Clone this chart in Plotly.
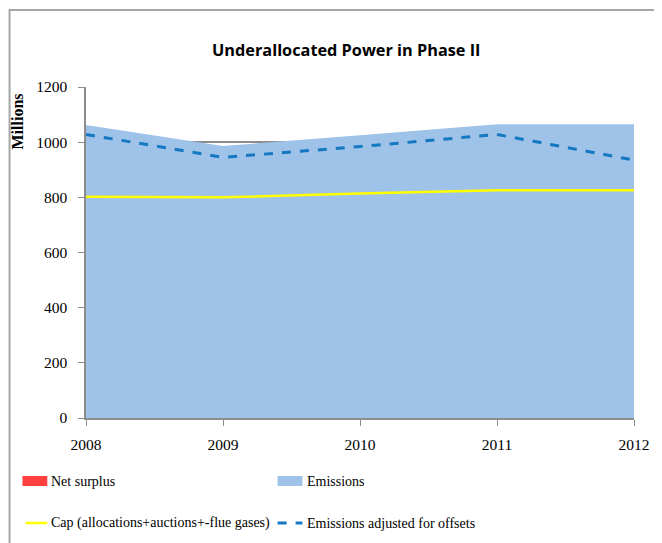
import plotly.graph_objects as go

years = [2008, 2009, 2010, 2011, 2012]
emissions = [1062, 986, 1025, 1065, 1065]
emissions_adj = [1028, 945, 984, 1028, 935]
cap = [802, 800, 814, 826, 826]
net_surplus = [0, 0, 0, 0, 0]
y_ticks = [0, 200, 400, 600, 800, 1000, 1200]

# page has an 8px body margin; work in page pixels and convert
OFF = 8
W, H = 662 - OFF, 543 - OFF
L, R, T, B = 86 - OFF, 24, 87 - OFF, 125
pw, ph = W - L - R, H - T - B

def px(x):
    return (x - OFF - L) / pw

def py(y):
    return (H - B - (y - OFF)) / ph

serif = "Liberation Serif"
fig = go.Figure()
fig.add_trace(go.Scatter(x=years, y=emissions, mode="lines", fill="tozeroy",
                         line=dict(width=0, color="#9FC2E8"), fillcolor="#9FC2E8",
                         name="Emissions", showlegend=False))
fig.add_trace(go.Scatter(x=years, y=net_surplus, mode="lines", fill="tozeroy",
                         line=dict(width=0, color="#FF4040"), fillcolor="#FF4040",
                         name="Net surplus", showlegend=False))
fig.add_trace(go.Scatter(x=years, y=cap, mode="lines",
                         line=dict(width=2.5, color="#FFFF00"),
                         name="Cap (allocations+auctions+-flue gases)", showlegend=False))
fig.add_trace(go.Scatter(x=years, y=emissions_adj, mode="lines",
                         line=dict(width=3, color="#1478C2", dash="dash"),
                         name="Emissions adjusted for offsets", showlegend=False))

shapes = [
    dict(type="rect", xref="paper", yref="paper", x0=px(9), x1=px(700), y0=py(600), y1=py(10),
         line=dict(color="#A6A6A6", width=2), fillcolor="rgba(0,0,0,0)", layer="below"),
    # legend markers
    dict(type="rect", xref="paper", yref="paper", x0=px(22), x1=px(47), y0=py(486), y1=py(476),
         line=dict(width=0), fillcolor="#FF4040"),
    dict(type="rect", xref="paper", yref="paper", x0=px(279), x1=px(304), y0=py(486), y1=py(476),
         line=dict(width=0), fillcolor="#9FC2E8"),
    dict(type="line", xref="paper", yref="paper", x0=px(25), x1=px(47), y0=py(523), y1=py(523),
         line=dict(color="#FFFF00", width=2.5)),
    dict(type="line", xref="paper", yref="paper", x0=px(279), x1=px(304), y0=py(523), y1=py(523),
         line=dict(color="#1478C2", width=3, dash="dash")),
]

annotations = [
    dict(text="<b>Underallocated Power in Phase II</b>", xref="paper", yref="paper",
         x=px(348), y=py(50), showarrow=False, xanchor="center", yanchor="middle",
         font=dict(family="Open Sans", size=16.3, color="#000")),
    dict(text="<b>Millions</b>", xref="paper", yref="paper", x=px(16), y=py(122),
         showarrow=False, textangle=-90, xanchor="center", yanchor="middle",
         font=dict(family=serif, size=16, color="#000")),
]
legend_items = [
    ("Net surplus", 49, 481),
    ("Emissions", 307, 481),
    ("Cap (allocations+auctions+-flue gases)", 49, 523),
    ("Emissions adjusted for offsets", 307, 523),
]
for txt, x, y in legend_items:
    annotations.append(dict(text=txt, xref="paper", yref="paper", x=px(x), y=py(y),
                            showarrow=False, xanchor="left", yanchor="middle",
                            font=dict(family=serif, size=14, color="#000")))

fig.update_layout(
    width=W, height=H,
    margin=dict(l=L, r=R, t=T, b=B, pad=0),
    paper_bgcolor="white", plot_bgcolor="white",
    shapes=shapes, annotations=annotations, showlegend=False,
    xaxis=dict(range=[2008, 2012], tickvals=years, ticktext=[str(y) for y in years],
               showgrid=False, showline=True, linecolor="#8C8C8C", linewidth=1.5,
               ticks="outside", ticklen=6, tickcolor="#8C8C8C", zeroline=False,
               ticklabelstandoff=6,
               tickfont=dict(family=serif, size=15.5, color="#000")),
    yaxis=dict(range=[0, 1200], tickvals=y_ticks, showgrid=True, gridcolor="#8C8C8C",
               gridwidth=1.5, showline=True, linecolor="#8C8C8C", linewidth=1.5,
               ticks="outside", ticklen=6, tickcolor="#8C8C8C", zeroline=False,
               ticklabelstandoff=8,
               tickfont=dict(family=serif, size=15.5, color="#000")),
)

fig.write_html("out.html")
